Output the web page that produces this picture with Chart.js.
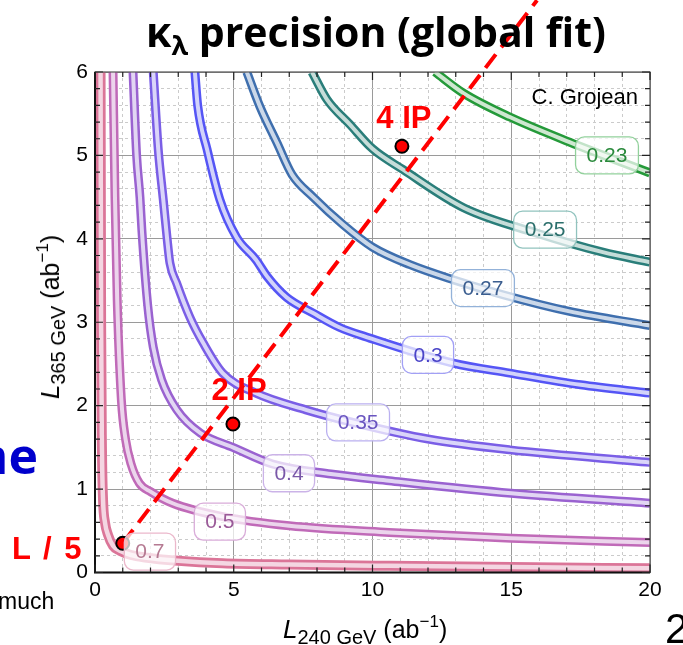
<!DOCTYPE html>
<html>
<head>
<meta charset="utf-8">
<script src="https://cdn.jsdelivr.net/npm/chart.js@4.4.0/dist/chart.umd.min.js"></script>
<style>
  html, body { margin: 0; padding: 0; background: #fff; }
  #wrap { position: relative; width: 683px; height: 645px; overflow: hidden; font-family: "Liberation Sans", Arial, sans-serif; }
  #chart { position: absolute; left: 0; top: 0; }
  .txt { position: absolute; white-space: nowrap; line-height: 1; }
  #title { left: 0; width: 752px; top: 11px; text-align: center; font-family: "Open Sans", sans-serif; font-weight: 700; font-size: 41px; color: #000; }
  #title sub { font-size: 27px; vertical-align: -8px; }
  .axt { font-size: 25px; color: #000; }
  .axt i { font-size: 26px; }
  .axt sub { font-size: 20px; vertical-align: -6px; }
  .axt sup { font-size: 17px; vertical-align: 11px; }
  #xt { left: 283px; top: 613px; }
  #yt { left: 51px; top: 317px; transform: translate(-50%, -50%) rotate(-90deg); }
  .red { color: #ff0000; font-weight: 700; font-size: 31px; }
  #l5 { left: 12px; top: 533px; letter-spacing: 2px; }
  #ne { right: 645px; top: 430px; color: #0000cc; font-family: "Open Sans", sans-serif; font-weight: 700; font-size: 50px; }
  #much { left: -2px; top: 590px; font-size: 23px; color: #000; }
  #pg { left: 665px; top: 608px; font-size: 42px; color: #000; }
</style>
</head>
<body>
<div id="wrap">
  <canvas id="chart" width="683" height="645"></canvas>
  <div class="txt" id="title">κ<sub>λ</sub> precision (global fit)</div>
  <div class="txt axt" id="xt"><i>L</i><sub>240 GeV</sub> (ab<sup>−1</sup>)</div>
  <div class="txt axt" id="yt"><i>L</i><sub>365 GeV</sub> (ab<sup>−1</sup>)</div>
  <div class="txt red" id="l5">L / 5</div>
  <div class="txt" id="ne">ne</div>
  <div class="txt" id="much">much</div>
  <div class="txt" id="pg">2</div>
</div>
<script>
// contour levels of the kappa_lambda precision
const levels = ['0.7', '0.5', '0.4', '0.35', '0.3', '0.27', '0.25', '0.23'];

// contour lines (x = L240, y = L365)
const c070X = [0.2, 0.22, 0.25, 0.29, 0.36, 0.47, 0.65, 0.9, 1.3, 1.8, 3.0, 4.6, 7.0, 10.6, 15, 20];
const c070Y = [6, 3, 1.5, 0.87, 0.6, 0.45, 0.32, 0.26, 0.21, 0.18, 0.14, 0.11, 0.095, 0.08, 0.065, 0.05];
const c050X = [0.65, 0.72, 0.8, 0.95, 1.1, 1.3, 1.6, 2.0, 2.8, 4.6, 7.0, 10.6, 15, 20];
const c050Y = [6, 4.5, 3.27, 2.07, 1.6, 1.3, 1.07, 0.97, 0.83, 0.67, 0.56, 0.48, 0.41, 0.36];
const c040X = [1.37, 1.5, 1.62, 1.69, 1.9, 2.1, 2.4, 2.95, 3.8, 4.97, 6.4, 8.5, 10.6, 15, 20];
const c040Y = [6, 5, 4.5, 4.1, 3.2, 2.7, 2.31, 1.95, 1.67, 1.5, 1.3, 1.18, 1.1, 0.95, 0.83];
const c035X = [2.1, 2.28, 2.46, 2.6, 2.7, 2.94, 3.42, 3.9, 4.6, 5.8, 7.6, 9.4, 12, 14.95, 20];
const c035Y = [6, 5.07, 4.47, 4.0, 3.71, 3.47, 3.06, 2.75, 2.39, 2.15, 1.95, 1.79, 1.6, 1.47, 1.32];
const c030X = [3.6, 3.7, 4.04, 4.5, 5.1, 5.8, 6.2, 6.9, 7.86, 8.8, 9.9, 12.9, 14.95, 17.5, 20];
const c030Y = [6, 5.6, 5.07, 4.47, 4.02, 3.75, 3.55, 3.3, 3.11, 2.94, 2.81, 2.51, 2.39, 2.25, 2.15];
const c027X = [5.47, 5.95, 6.56, 7.1, 7.86, 8.94, 10.0, 11.35, 12.9, 14.7, 17.1, 20];
const c027Y = [6, 5.58, 5.15, 4.77, 4.5, 4.17, 3.9, 3.69, 3.51, 3.33, 3.13, 2.96];
const c025X = [7.82, 8.36, 9.19, 10.0, 11.1, 13.3, 15.9, 18.3, 20];
const c025Y = [6, 5.67, 5.37, 5.08, 4.83, 4.37, 4.07, 3.84, 3.72];
const c023X = [12.25, 13.26, 14.95, 17.1, 20];
const c023Y = [6, 5.75, 5.46, 5.16, 4.79];

const curveX = [c070X, c050X, c040X, c035X, c030X, c027X, c025X, c023X];
const curveY = [c070Y, c050Y, c040Y, c035Y, c030Y, c027Y, c025Y, c023Y];

// contour label positions
const labelX = [1.98, 4.5, 6.99, 9.48, 12.0, 13.98, 16.22, 18.45];
const labelY = [0.25, 0.61, 1.19, 1.8, 2.61, 3.41, 4.11, 5.0];

// run scenarios: L/5, 2 IP, 4 IP
const ipX = [1, 4.97, 11.06];
const ipY = [0.35, 1.78, 5.11];
const ipLineX = [1, 15.93];
const ipLineY = [0.35, 6.86];
const ipText = ['2 IP', '4 IP'];
const ipTextX = [5.19, 11.13];
const ipTextY = [2.2, 5.45];

const darkCol = ['#db7598', '#c06ab8', '#9a62d0', '#7a5ee6', '#5555f5', '#3f6fae', '#2a7e7a', '#259a3a'];
const lightCol = ['#f4d6e2', '#ecd5ec', '#e2d6f3', '#dad5f9', '#d2d3fa', '#cbd8e9', '#c6ddd9', '#cfe8d1'];
const textCol = ['#b57a92', '#9a5a98', '#7a58a8', '#6a55c0', '#4a44c8', '#3a5d8f', '#2b6f6c', '#2a8a3c'];
const boxCol = ['#ebb8cb', '#d9acd9', '#cbb3e8', '#bab0f0', '#a2a0f5', '#93b2d9', '#91c3be', '#92d19c'];

const pts = (xs, ys) => xs.map((x, i) => ({x: x, y: ys[i]}));

const datasets = [];
for (let k = 0; k < levels.length; k++) {
    const d = pts(curveX[k], curveY[k]);
    datasets.push({
        label: 'edge ' + levels[k], data: d, showLine: true, pointRadius: 0,
        borderColor: darkCol[k], borderWidth: k === 0 ? 10 : 9,
        cubicInterpolationMode: 'monotone', order: 4
    });
    datasets.push({
        label: 'band ' + levels[k], data: d, showLine: true, pointRadius: 0,
        borderColor: lightCol[k], borderWidth: k === 0 ? 4.5 : 4,
        cubicInterpolationMode: 'monotone', order: 3
    });
}
datasets.push({
    label: 'scaling', data: pts(ipLineX, ipLineY), showLine: true, pointRadius: 0,
    borderColor: '#ff0000', borderWidth: 4, borderDash: [17, 9], clip: false, order: 2
});
datasets.push({
    label: 'IP', data: pts(ipX, ipY), showLine: false, pointRadius: 6.5,
    pointBackgroundColor: '#ff0000', pointBorderColor: '#000', pointBorderWidth: 2, order: 1
});

const isInt = v => Math.abs(v - Math.round(v)) < 1e-6;

const extras = {
    id: 'extras',
    afterDatasetsDraw(chart) {
        const c = chart.ctx;
        const xs = chart.scales.x, ys = chart.scales.y;
        c.save();
        c.font = '21px "Liberation Sans", Arial, sans-serif';
        c.textAlign = 'center';
        c.textBaseline = 'middle';
        for (let k = 0; k < levels.length; k++) {
            const px = xs.getPixelForValue(labelX[k]);
            const py = ys.getPixelForValue(labelY[k]);
            const w = c.measureText(levels[k]).width + 22;
            const h = 37;
            c.beginPath();
            c.roundRect(px - w / 2, py - h / 2, w, h, 9);
            c.fillStyle = 'rgba(255,255,255,0.72)';
            c.fill();
            c.lineWidth = 1.3;
            c.strokeStyle = boxCol[k];
            c.stroke();
            c.fillStyle = textCol[k];
            c.fillText(levels[k], px, py + 1);
        }
        // IP labels
        c.font = 'bold 31px "Liberation Sans", Arial, sans-serif';
        c.fillStyle = '#ff0000';
        for (let k = 0; k < ipText.length; k++) {
            c.fillText(ipText[k], xs.getPixelForValue(ipTextX[k]), ys.getPixelForValue(ipTextY[k]) + 2);
        }
        c.font = '22px "Liberation Sans", Arial, sans-serif';
        c.fillStyle = '#000';
        c.textAlign = 'right';
        c.fillText('C. Grojean', chart.chartArea.right - 12, chart.chartArea.top + 26);
        c.restore();
    },
    afterDraw(chart) {
        const c = chart.ctx;
        const a = chart.chartArea;
        const xs = chart.scales.x, ys = chart.scales.y;
        c.save();
        c.strokeStyle = '#555';
        c.lineWidth = 1.2;
        c.strokeRect(a.left, a.top, a.right - a.left, a.bottom - a.top);
        c.strokeStyle = '#111';
        c.lineWidth = 2;
        c.beginPath();
        c.moveTo(a.left, a.top);
        c.lineTo(a.left, a.bottom);
        c.lineTo(a.right, a.bottom);
        c.stroke();
        c.lineWidth = 1.2;
        c.strokeStyle = '#222';
        c.beginPath();
        xs.ticks.forEach(t => {
            const p = xs.getPixelForValue(t.value);
            const len = t.value % 5 === 0 ? 8 : 5;
            c.moveTo(p, a.bottom); c.lineTo(p, a.bottom - len);
            c.moveTo(p, a.top); c.lineTo(p, a.top + len);
        });
        ys.ticks.forEach(t => {
            const p = ys.getPixelForValue(t.value);
            const len = isInt(t.value) ? 8 : 5;
            c.moveTo(a.left, p); c.lineTo(a.left + len, p);
            c.moveTo(a.right, p); c.lineTo(a.right - len, p);
        });
        c.stroke();
        c.restore();
    }
};

const tickFont = {family: '"Liberation Sans", Arial, sans-serif', size: 21};

new Chart(document.getElementById('chart'), {
    type: 'scatter',
    data: {datasets: datasets},
    options: {
        responsive: false,
        animation: false,
        layout: {padding: {top: 72, right: 33, left: 0, bottom: 0}},
        plugins: {legend: {display: false}, tooltip: {enabled: false}},
        scales: {
            x: {
                type: 'linear', min: 0, max: 20,
                afterFit: s => { s.height = 72.5; },
                ticks: {
                    stepSize: 1, autoSkip: false, maxRotation: 0, padding: 5,
                    color: '#000', font: tickFont,
                    callback: v => (v % 5 === 0 ? String(v) : '')
                },
                grid: {
                    drawTicks: false, lineWidth: 1,
                    color: ctx => (ctx.tick && ctx.tick.value % 5 === 0 ? '#9a9a9a' : '#cbcbcb')
                },
                border: {
                    display: false,
                    dash: ctx => (ctx.tick && ctx.tick.value % 5 !== 0 ? [3, 3] : [])
                }
            },
            y: {
                type: 'linear', min: 0, max: 6,
                afterFit: s => { s.width = 95; },
                ticks: {
                    stepSize: 0.2, autoSkip: false, padding: 7,
                    color: '#000', font: tickFont,
                    callback: v => (isInt(v) ? String(Math.round(v)) : '')
                },
                grid: {
                    drawTicks: false, lineWidth: 1,
                    color: ctx => (ctx.tick && isInt(ctx.tick.value) ? '#9a9a9a' : '#cbcbcb')
                },
                border: {
                    display: false,
                    dash: ctx => (ctx.tick && !isInt(ctx.tick.value) ? [3, 3] : [])
                }
            }
        }
    },
    plugins: [extras]
});
</script>
</body>
</html>
